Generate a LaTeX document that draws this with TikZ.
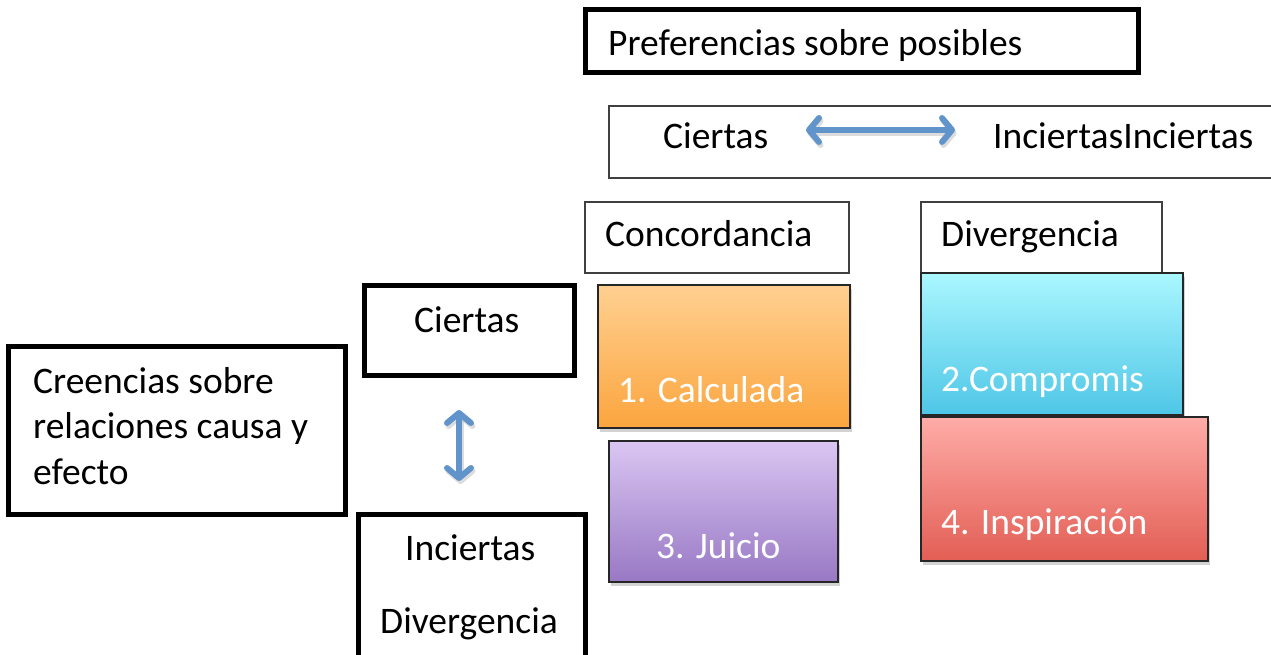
\documentclass[tikz,border=0pt]{standalone}
\usepackage{fontspec}
\setmainfont{Carlito}
\usetikzlibrary{arrows.meta,shadows}
\definecolor{arrowblue}{RGB}{98,148,204}
\definecolor{orT}{RGB}{255,208,145}
\definecolor{orB}{RGB}{251,165,62}
\definecolor{puT}{RGB}{218,198,242}
\definecolor{puB}{RGB}{152,120,196}
\definecolor{cyT}{RGB}{170,247,255}
\definecolor{cyB}{RGB}{78,198,230}
\definecolor{reT}{RGB}{255,172,168}
\definecolor{reB}{RGB}{226,94,84}
\tikzset{
  thickbox/.style={draw=black, line width=5pt, fill=white, rectangle, inner sep=0pt},
  thinbox/.style={draw=black!75, line width=1.2pt, fill=white, rectangle, inner sep=0pt},
  colbox/.style={draw=black!85, line width=2pt, rectangle, inner sep=0pt,
    drop shadow={shadow xshift=2pt, shadow yshift=-4pt, opacity=0.35}},
  lbl/.style={anchor=base west, inner sep=0pt, font=\fontsize{37.5}{45.5}\selectfont},
  wlbl/.style={lbl, text=white},
  barb/.tip={Straight Barb[length=10pt,width=24pt,line width=6pt,round]},
  dblarrow/.style={arrowblue, line width=6pt, line cap=round, {barb}-{barb},
    preaction={draw=black!30, opacity=0.45, line width=6pt, transform canvas={xshift=1.5pt,yshift=-3pt}}},
}
\begin{document}
\begin{tikzpicture}[x=1pt,y=-1pt]
\useasboundingbox (0,0) rectangle (1271,655);
% top boxes
\node[thickbox, minimum width=553pt, minimum height=63pt] (pref) at (861.5,41.5) {};
\node[lbl] (prefT) at (608,56) {Preferencias sobre posibles};
\node[thinbox, minimum width=680pt, minimum height=72pt] (ci) at (949,142) {};
\node[lbl] (ciT) at (663,149) {Ciertas};
\node[lbl] (inT) at (993,149) {InciertasInciertas};
\coordinate (ha) at (806,130);
\coordinate (hb) at (955,130);
\draw[dblarrow] (ha) -- (hb);
% column headers
\node[thinbox, minimum width=264pt, minimum height=71pt] (conc) at (717,237.5) {};
\node[lbl] (concT) at (605,246) {Concordancia};
\node[thinbox, minimum width=241pt, minimum height=71pt] (div) at (1041.5,237.5) {};
\node[lbl] (divT) at (941,246) {Divergencia};
% coloured boxes
\node[colbox, top color=orT, bottom color=orB, minimum width=252pt, minimum height=143pt] (calc) at (724,356.5) {};
\node[wlbl] (calcT) at (618,402) {1. Calculada};
\node[colbox, top color=puT, bottom color=puB, minimum width=229pt, minimum height=141pt] (juic) at (723.5,511.5) {};
\node[wlbl] (juicT) at (656,558) {3. Juicio};
\node[colbox, top color=cyT, bottom color=cyB, minimum width=262pt, minimum height=142pt] (comp) at (1052,344) {};
\node[wlbl] (compT) at (941,391) {2.Compromis};
\node[colbox, top color=reT, bottom color=reB, minimum width=287pt, minimum height=144pt] (insp) at (1064.5,489) {};
\node[wlbl] (inspT) at (941,534) {4. Inspiración};
% left side
\node[thickbox, minimum width=210pt, minimum height=90pt] (lci) at (469,330) {};
\node[lbl] (lciT) at (414,332) {Ciertas};
\node[thickbox, minimum width=337pt, minimum height=168pt] (cre) at (176.5,430) {};
\node[lbl, align=left, anchor=north west] (creT) at (33,367) {Creencias sobre\\relaciones causa y\\efecto};
\node[thickbox, minimum width=227pt, minimum height=160pt] (linc) at (471.5,594) {};
\node[lbl] (lincT) at (405,560) {Inciertas};
\node[lbl] (ldivT) at (380,633) {Divergencia};
\coordinate (va) at (459,410);
\coordinate (vb) at (459,481);
\draw[dblarrow] (va) -- (vb);
\end{tikzpicture}
\end{document}
